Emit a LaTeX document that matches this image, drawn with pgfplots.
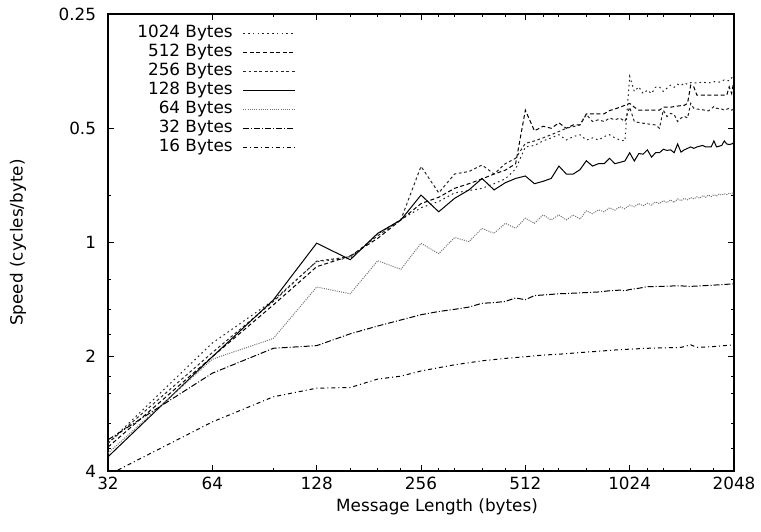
\documentclass[border=0pt]{standalone}
\usepackage{pgfplots}
\pgfplotsset{compat=1.18}
\usepackage{fontspec}
\setmainfont{DejaVu Sans}
\begin{document}
\fontsize{8.4}{10}\selectfont
\begin{tikzpicture}
\useasboundingbox (-54pt,-30pt) rectangle (326.5pt,235.5pt);
\begin{axis}[
  at={(0,0)}, anchor=south west,
  scale only axis, width=313pt, height=228.5pt,
  xmode=log, ymode=log, log basis x=2, log basis y=2,
  y dir=reverse,
  xmin=32, xmax=2048, ymin=0.25, ymax=4,
  xtick={32,64,128,256,512,1024,2048},
  xticklabels={32,64,128,256,512,1024,2048},
  ytick={0.25,0.5,1,2,4},
  yticklabels={0.25,0.5,1,2,4},
  extra x ticks={96,160,192,224,288,320,384,448,576,640,768,896,1152,1280,1536,1792},
  extra x tick labels={},
  extra x tick style={major tick length=1.5pt},
  extra y ticks={0.75,1.25,1.5,1.75,2.25,2.5,3,3.5},
  extra y tick labels={},
  extra y tick style={major tick length=1.5pt},
  tick align=inside, xtick pos=both, ytick pos=both,
  major tick length=3pt,
  every tick/.style={black, line width=0.5pt},
  axis line style={line width=0.8pt},
  xlabel={Message Length (bytes)},
  ylabel={Speed (cycles/byte)},
  every axis x label/.style={at={(axis description cs:0.5,0)}, xshift=8pt, yshift=-18pt, anchor=center},
  every axis y label/.style={at={(axis description cs:0,0.5)}, xshift=-45pt, rotate=90, anchor=center},
  yticklabel style={xshift=-3pt},
  legend plot pos=right, legend cell align=right,
  legend style={at={(0.31,0.988)}, anchor=north east, draw=none, fill=none,
    row sep=0pt, nodes={inner sep=1pt, text height=6pt, text depth=1.5pt},
    /tikz/every odd column/.append style={column sep=4pt}},
  legend image code/.code={\draw[#1] (0pt,0pt) -- (26pt,0pt);},
  every axis plot/.append style={line width=0.5pt},
]
% 1024 Bytes
\addplot[black!85, dash pattern=on 0.8pt off 1.6pt] coordinates {
 (32,3.38) (64,1.84) (96,1.42) (128,1.123) (160,1.10) (192,0.95) (224,0.87) (256,0.81)
 (288,0.78) (320,0.74) (352,0.73) (384,0.72) (416,0.70) (448,0.68) (480,0.64) (512,0.56)
 (544,0.555) (576,0.54) (608,0.53) (640,0.52) (672,0.537) (704,0.526) (736,0.52) (768,0.537)
 (800,0.53) (832,0.537) (864,0.526) (896,0.52) (928,0.53) (960,0.537) (992,0.54) (1024,0.365)
 (1056,0.40) (1088,0.389) (1120,0.405) (1152,0.397) (1184,0.405) (1216,0.39) (1248,0.389)
 (1280,0.40) (1312,0.392) (1344,0.385) (1376,0.39) (1408,0.383) (1440,0.386) (1472,0.38)
 (1504,0.383) (1536,0.379) (1600,0.38) (1664,0.378) (1728,0.38) (1792,0.377) (1856,0.378)
 (1920,0.373) (1984,0.375) (2048,0.362)
};
\addlegendentry{1024 Bytes}
% 512 Bytes
\addplot[black, dash pattern=on 2pt off 1.3pt] coordinates {
 (32,3.46) (64,2.0) (96,1.46) (128,1.158) (160,1.085) (192,0.975) (224,0.872) (256,0.79)
 (288,0.76) (320,0.72) (352,0.70) (384,0.68) (416,0.66) (448,0.645) (480,0.62) (512,0.448)
 (544,0.508) (576,0.494) (608,0.50) (640,0.484) (672,0.50) (704,0.49) (736,0.49) (768,0.458)
 (800,0.458) (832,0.458) (864,0.458) (896,0.449) (928,0.445) (960,0.44) (992,0.435) (1024,0.43)
 (1056,0.44) (1088,0.448) (1152,0.448) (1216,0.448) (1248,0.448) (1280,0.44) (1344,0.44)
 (1408,0.437) (1472,0.435) (1504,0.43) (1536,0.385) (1568,0.389) (1600,0.409) (1952,0.409)
 (1984,0.389) (2016,0.405) (2048,0.373)
};
\addlegendentry{512 Bytes}
% 256 Bytes
\addplot[black!85, dash pattern=on 1.4pt off 1.3pt] coordinates {
 (32,3.38) (64,1.95) (96,1.43) (128,1.12) (160,1.09) (192,0.96) (224,0.87) (256,0.63)
 (288,0.74) (320,0.66) (352,0.65) (384,0.625) (416,0.66) (448,0.62) (480,0.60) (512,0.548)
 (544,0.54) (576,0.53) (608,0.52) (640,0.51) (672,0.50) (704,0.495) (736,0.49) (768,0.46)
 (800,0.48) (832,0.475) (864,0.48) (896,0.47) (928,0.475) (960,0.47) (992,0.48) (1024,0.44)
 (1056,0.48) (1088,0.483) (1152,0.487) (1216,0.49) (1248,0.50) (1280,0.448) (1312,0.466)
 (1344,0.457) (1376,0.46) (1408,0.48) (1440,0.47) (1472,0.465) (1504,0.47) (1536,0.43)
 (1568,0.443) (1600,0.445) (1664,0.447) (1728,0.45) (1760,0.445) (1792,0.438) (1824,0.443)
 (1888,0.445) (1920,0.448) (1984,0.443) (2016,0.448) (2048,0.445)
};
\addlegendentry{256 Bytes}
% 128 Bytes
\addplot[black] coordinates {
 (32,3.67) (64,2.0) (96,1.417) (128,1.004) (160,1.11) (192,0.946) (224,0.872) (256,0.75)
 (288,0.83) (320,0.765) (352,0.727) (384,0.678) (416,0.727) (448,0.696) (480,0.678) (512,0.668)
 (544,0.70) (576,0.69) (608,0.678) (640,0.629) (672,0.66) (704,0.66) (736,0.643) (768,0.609)
 (800,0.629) (832,0.62) (864,0.62) (896,0.60) (928,0.62) (960,0.615) (992,0.61) (1024,0.58)
 (1056,0.61) (1088,0.583) (1120,0.585) (1152,0.57) (1184,0.596) (1216,0.58) (1248,0.58)
 (1280,0.568) (1312,0.572) (1344,0.57) (1376,0.58) (1408,0.55) (1440,0.578) (1472,0.57)
 (1504,0.565) (1536,0.56) (1568,0.565) (1600,0.56) (1664,0.555) (1696,0.56) (1760,0.56)
 (1792,0.54) (1824,0.56) (1888,0.555) (1920,0.54) (1952,0.55) (1984,0.552) (2016,0.55) (2048,0.545)
};
\addlegendentry{128 Bytes}
% 64 Bytes
\addplot[black!55, dash pattern=on 0.5pt off 0.6pt] coordinates {
 (32,3.59) (64,2.03) (96,1.79) (128,1.31) (160,1.365) (192,1.117) (224,1.177) (256,1.005)
 (288,1.07) (320,0.97) (352,0.995) (384,0.918) (416,0.946) (448,0.89) (480,0.918) (512,0.863)
 (544,0.89) (576,0.846) (608,0.872) (640,0.846) (672,0.872) (704,0.846) (736,0.868) (768,0.825)
 (800,0.84) (832,0.82) (864,0.83) (896,0.81) (928,0.822) (960,0.805) (992,0.815) (1024,0.797)
 (1056,0.805) (1088,0.79) (1120,0.80) (1152,0.788) (1184,0.797) (1216,0.782) (1248,0.79)
 (1280,0.776) (1312,0.785) (1344,0.772) (1376,0.785) (1408,0.768) (1440,0.776) (1472,0.765)
 (1504,0.772) (1536,0.762) (1568,0.768) (1600,0.758) (1632,0.765) (1664,0.752) (1696,0.76)
 (1728,0.75) (1760,0.757) (1792,0.748) (1824,0.754) (1856,0.746) (1888,0.75) (1920,0.744)
 (1952,0.748) (1984,0.742) (2016,0.745) (2048,0.738)
};
\addlegendentry{64 Bytes}
% 32 Bytes
\addplot[black, dash pattern=on 3pt off 1pt on 0.5pt off 1pt] coordinates {
 (32,3.31) (64,2.21) (96,1.90) (128,1.87) (160,1.74) (192,1.66) (224,1.60) (256,1.55)
 (288,1.52) (320,1.50) (352,1.48) (384,1.446) (416,1.44) (448,1.43) (480,1.40) (512,1.415)
 (544,1.38) (576,1.375) (608,1.37) (640,1.365) (704,1.36) (768,1.355) (832,1.35) (896,1.34)
 (960,1.335) (992,1.34) (1024,1.33) (1088,1.32) (1152,1.307) (1280,1.305) (1408,1.30)
 (1536,1.305) (1664,1.30) (1792,1.295) (1920,1.29) (2048,1.285)
};
\addlegendentry{32 Bytes}
% 16 Bytes
\addplot[black, dash pattern=on 2pt off 1.5pt on 0.5pt off 1.5pt] coordinates {
 (32,4.1) (64,2.97) (96,2.55) (128,2.42) (160,2.41) (192,2.29) (224,2.25) (256,2.18)
 (320,2.10) (384,2.05) (448,2.02) (512,2.00) (576,1.98) (640,1.97) (736,1.95) (832,1.935)
 (928,1.92) (1024,1.91) (1152,1.90) (1280,1.895) (1440,1.89) (1536,1.86) (1600,1.89)
 (1792,1.88) (2048,1.86)
};
\addlegendentry{16 Bytes}
\end{axis}
\end{tikzpicture}
\end{document}
